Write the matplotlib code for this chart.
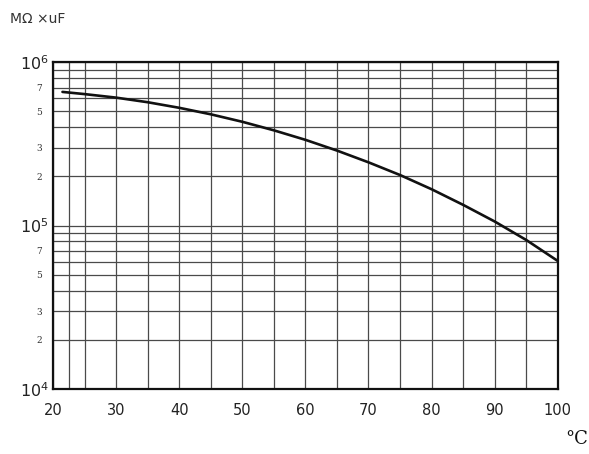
import matplotlib
matplotlib.use("Agg")
import matplotlib.pyplot as plt
from matplotlib.ticker import FixedLocator, FuncFormatter, LogLocator, NullFormatter

# Data
temp_c = [21.5, 25, 30, 35, 40, 45, 50, 55, 60, 65, 70, 75, 80, 85, 90, 95, 100]
ir_product = [6.58e5, 6.38e5, 6.07e5, 5.69e5, 5.26e5, 4.80e5, 4.32e5, 3.83e5, 3.35e5,
              2.88e5, 2.44e5, 2.04e5, 1.67e5, 1.34e5, 1.06e5, 8.17e4, 6.08e4]
x_ticks = [20, 30, 40, 50, 60, 70, 80, 90, 100]
x_minor_grid = [22.5, 25, 35, 45, 55, 65, 75, 85, 95]
y_minor_labelled = [2, 3, 5, 7]

fig = plt.figure(figsize=(5.89, 4.54), dpi=100)
ax = fig.add_axes([0.09, 0.143, 0.857, 0.72])

ax.set_xlim(20, 100)
ax.set_yscale("log")
ax.set_ylim(1e4, 1e6)

ax.xaxis.set_major_locator(FixedLocator(x_ticks))
ax.xaxis.set_minor_locator(FixedLocator(x_minor_grid))
ax.yaxis.set_major_locator(LogLocator(base=10))
ax.yaxis.set_minor_locator(LogLocator(base=10, subs=range(2, 10)))

def major_fmt(v, pos):
    import math
    e = int(round(math.log10(v)))
    return r"$\mathregular{10^{%d}}$" % e

def minor_fmt(v, pos):
    import math
    m = v / 10 ** math.floor(math.log10(v) + 1e-9)
    m = int(round(m))
    return str(m) if m in y_minor_labelled else ""

ax.yaxis.set_major_formatter(FuncFormatter(major_fmt))
ax.yaxis.set_minor_formatter(FuncFormatter(minor_fmt))
ax.xaxis.set_minor_formatter(NullFormatter())

ax.grid(True, which="both", color="#4a4a4a", linewidth=0.9)
ax.tick_params(axis="both", which="both", length=0)
ax.tick_params(axis="x", which="major", labelsize=10.5, pad=10, labelcolor="#222222")
ax.tick_params(axis="y", which="major", labelsize=11.5, pad=3, labelcolor="#222222")
ax.tick_params(axis="y", which="minor", labelsize=6.5, pad=8, labelcolor="#333333")
for lbl in ax.yaxis.get_minorticklabels():
    lbl.set_family("DejaVu Serif")

for s in ax.spines.values():
    s.set_linewidth(1.6)
    s.set_color("#111111")

ax.plot(temp_c, ir_product, color="#111111", linewidth=1.9, solid_capstyle="round")

fig.text(0.017, 0.958, "MΩ ×uF", fontsize=10, color="#333333", ha="left", va="center")
fig.text(0.96, 0.032, "°C", fontsize=13, color="#111111", ha="left", va="center",
         family="DejaVu Serif")

fig.savefig("out.png", dpi=100, facecolor="white")
